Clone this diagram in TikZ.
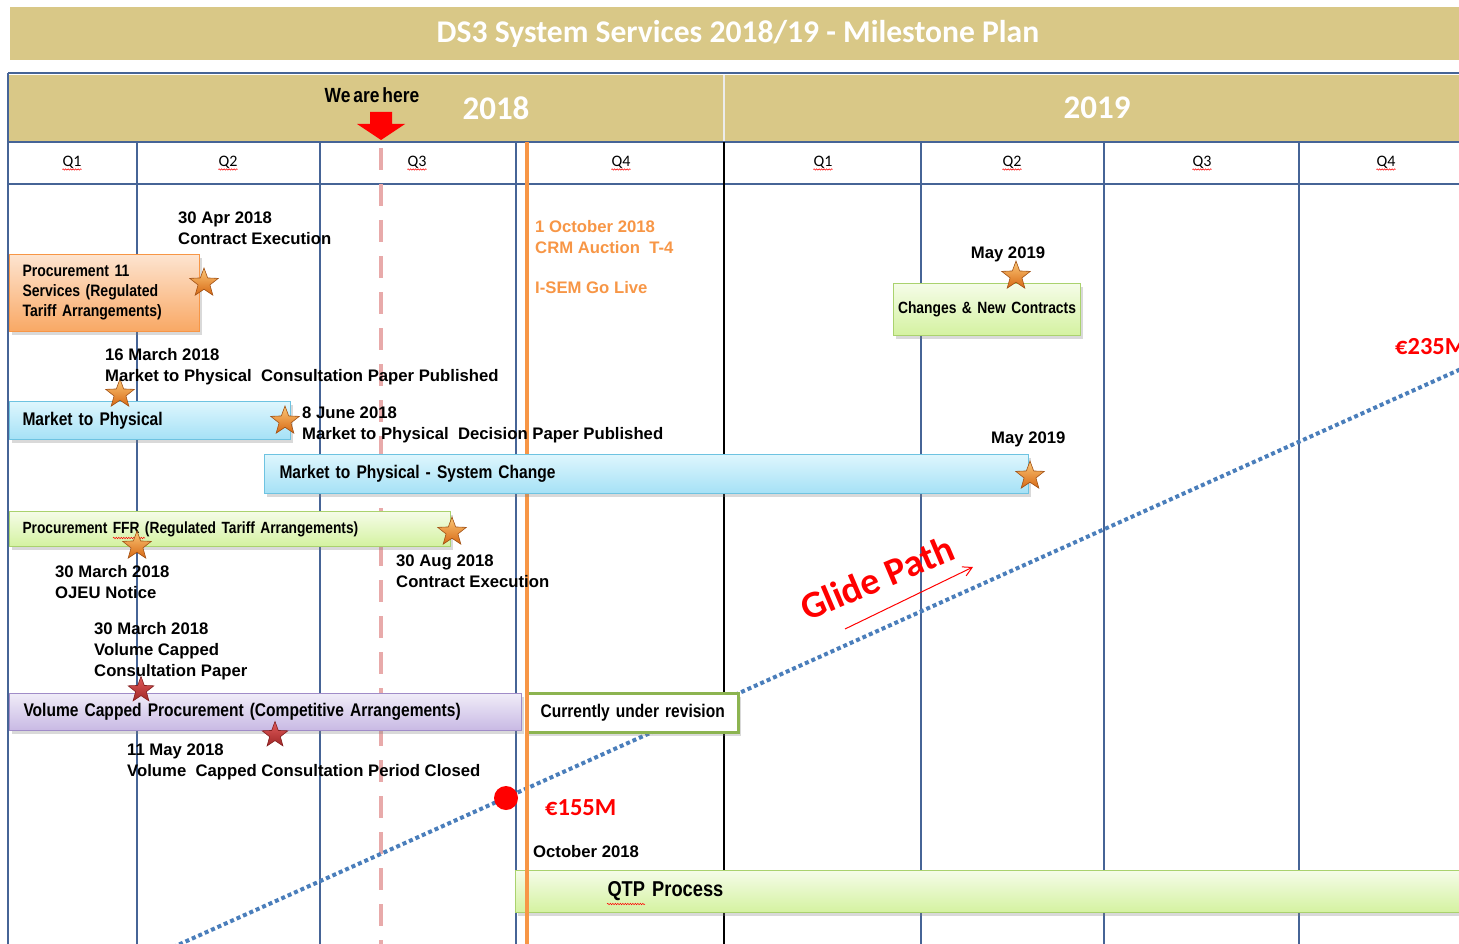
\documentclass[tikz,border=0pt]{standalone}
\usepackage{fontspec}
\setmainfont{Liberation Sans}
\newfontfamily\narrowfont[FakeStretch=0.85, WordSpace=0.6]{Liberation Sans}
\newfontfamily\calfont{Carlito}
\usetikzlibrary{shapes.geometric,shadows,arrows.meta,decorations.pathmorphing}
\definecolor{tanbar}{RGB}{217,200,135}
\definecolor{gridblue}{RGB}{70,100,150}
\definecolor{pinkdash}{RGB}{232,170,170}
\definecolor{orangeline}{RGB}{247,150,70}
\definecolor{orangetext}{RGB}{247,150,70}
\definecolor{glideblue}{RGB}{74,126,187}
\definecolor{otop}{RGB}{253,228,208}
\definecolor{obot}{RGB}{249,168,100}
\definecolor{oborder}{RGB}{247,150,70}
\definecolor{btop}{RGB}{222,246,253}
\definecolor{bbot}{RGB}{165,225,246}
\definecolor{bborder}{RGB}{110,195,225}
\definecolor{gtop}{RGB}{245,252,232}
\definecolor{gbot}{RGB}{212,242,160}
\definecolor{gborder}{RGB}{170,210,110}
\definecolor{ptop}{RGB}{240,236,248}
\definecolor{pbot}{RGB}{200,185,228}
\definecolor{pborder}{RGB}{160,140,200}
\definecolor{revborder}{RGB}{140,180,80}
\definecolor{starhi}{RGB}{252,200,120}
\definecolor{starlo}{RGB}{215,105,20}
\definecolor{stardraw}{RGB}{160,80,20}
\definecolor{rstarhi}{RGB}{225,90,90}
\definecolor{rstarlo}{RGB}{160,40,40}
\definecolor{rstardraw}{RGB}{130,30,30}

\begin{document}
\begin{tikzpicture}[x=1pt,y=-1pt,
  gridline/.style={draw=gridblue, line width=1.5pt},
  lbl/.style={font=\bfseries\fontsize{16.7}{21}\selectfont, align=left, inner sep=0pt, anchor=north west},
  olbl/.style={lbl, text=orangetext},
  qlbl/.style={font=\calfont\fontsize{16}{18}\selectfont, inner sep=1pt},
  spell/.style={draw=red, line width=0.5pt, decorate, decoration={snake, amplitude=0.7pt, segment length=2.5pt}},
  box/.style={line width=1pt, anchor=north west, inner ysep=0pt, inner xsep=13pt, align=left,
    font=\narrowfont\bfseries\fontsize{18.3}{21}\selectfont,
    drop shadow={shadow xshift=2pt, shadow yshift=-3pt, opacity=0.3}},
  obox/.style={box, draw=oborder, top color=otop, bottom color=obot},
  bbox/.style={box, draw=bborder, top color=btop, bottom color=bbot},
  gbox/.style={box, draw=gborder, top color=gtop, bottom color=gbot},
  pbox/.style={box, draw=pborder, top color=ptop, bottom color=pbot},
  ostar/.style={star, star points=5, star point ratio=2.4, minimum size=30pt, inner sep=0pt,
    draw=stardraw, line width=0.6pt, top color=starhi, bottom color=starlo},
  rstar/.style={ostar, draw=rstardraw, top color=rstarhi, bottom color=rstarlo, minimum size=27pt},
  eur/.style={font=\calfont\bfseries\fontsize{24.5}{28}\selectfont, text=red, anchor=west, inner sep=0pt}]
\useasboundingbox (0,0) rectangle (1459,944);
\clip (0,0) rectangle (1459,944);

\fill[tanbar] (10,7) rectangle (1459,60);
\node[font=\calfont\bfseries\fontsize{31.6}{36}\selectfont, text=white] (title) at (738,34) {DS3 System Services 2018/19 - Milestone Plan};

\fill[tanbar] (9,75) rectangle (1459,141);
\draw[white!85!gray, line width=1.5pt] (724,75) -- (724,141);
\draw[gridline] (8,73) -- (1459,73);
\draw[gridline] (8,142) -- (1459,142);
\draw[gridline] (8,184) -- (1459,184);
\draw[gridline] (8,73) -- (8,944);
\foreach \x in {137,320,516,921,1104,1299}
  \draw[gridline] (\x,142) -- (\x,944);
\draw[black, line width=1.5pt] (724,142) -- (724,944);

\node[font=\calfont\bfseries\fontsize{33}{38}\selectfont, text=white] (y18) at (496,108) {2018};
\node[font=\calfont\bfseries\fontsize{33}{38}\selectfont, text=white] (y19) at (1097,108) {2019};
\node[font=\narrowfont\bfseries\fontsize{20.5}{24}\selectfont] (here) at (372,95) {We are here};
\fill[red] (370,112) -- (392,112) -- (392,124) -- (405,124) -- (381,140) -- (357,124) -- (370,124) -- cycle;

\foreach \x/\q [count=\i] in {72/1,228/2,417/3,621/4,823/1,1012/2,1202/3,1386/4} {
  \node[qlbl] (q\i) at (\x,162) {Q\q};
  \draw[spell] ([xshift=1pt]q\i.south west) -- ([xshift=-1pt]q\i.south east);
}

\draw[pinkdash, line width=4pt, dash pattern=on 22pt off 14pt] (381,148) -- (381,944);

\coordinate (gp0) at (160,953);
\coordinate (gp1) at (1470,365);
\draw[glideblue, line width=4pt, dash pattern=on 4pt off 3pt] (gp0) -- (gp1);
\node[circle, fill=red, minimum size=24pt, inner sep=0pt] (dot) at (506,798) {};

\node[gbox, text width=771pt, inner xsep=92pt, minimum height=42pt, font=\narrowfont\bfseries\fontsize{21.5}{24}\selectfont] (qtp) at (515,870) {QTP Process};
\draw[spell] (607,904) -- (645,904);
\node[box, draw=revborder, fill=white, line width=3pt, text width=196pt, inner xsep=8pt, minimum height=39pt, font=\narrowfont\bfseries\fontsize{18.3}{21}\selectfont] (rev) at (525,692) {\ Currently under revision};

\draw[orangeline, line width=4pt] (527,142) -- (527,944);

\node[obox, text width=164pt, minimum height=77pt, font=\narrowfont\bfseries\fontsize{16.5}{20}\selectfont] (proc11) at (9,254) {Procurement 11\\Services (Regulated\\Tariff Arrangements)};
\node[bbox, text width=255pt, minimum height=38pt] (mtp) at (9,401) {Market to Physical};
\node[bbox, text width=734pt, inner xsep=15pt, minimum height=39pt] (mtpsys) at (264,454) {Market to Physical - System Change};
\node[gbox, text width=415pt, minimum height=35pt, font=\narrowfont\bfseries\fontsize{16.2}{20}\selectfont] (ffr) at (9,511) {Procurement FFR (Regulated Tariff Arrangements)};
\draw[spell] (113,538) -- (145,538);
\node[pbox, text width=484pt, inner xsep=14pt, minimum height=37pt] (vcp) at (9,693) {Volume Capped Procurement (Competitive Arrangements)};
\node[gbox, text width=185pt, inner xsep=1pt, align=center, minimum height=52pt, font=\narrowfont\bfseries\fontsize{16.3}{20}\selectfont] (chg) at (893,283) {Changes \& New Contracts};

\node[ostar] (sapr) at (204,283) {};
\node[ostar] (smar) at (120,394) {};
\node[ostar] (sjun) at (285,421) {};
\node[ostar] (smaya) at (1016,276) {};
\node[ostar] (smayb) at (1030,476) {};
\node[ostar] (sffra) at (137,546) {};
\node[ostar] (sffrb) at (452,532) {};
\node[rstar] (svca) at (141,690) {};
\node[rstar] (svcb) at (275,735) {};

\node[lbl] (apr30) at (178,212) {30 Apr 2018\\Contract Execution};
\node[lbl] (mar16) at (105,348) {16 March 2018\\Market to Physical\ \ Consultation Paper Published};
\node[lbl] (jun8) at (302,407) {8 June 2018\\Market to Physical\ \ Decision Paper Published};
\node[lbl, anchor=north] (maya) at (1008,247) {May 2019};
\node[lbl] (mayb) at (991,432) {May 2019};
\node[olbl] (oct1) at (535,220) {1 October 2018\\CRM Auction\ \ T-4};
\node[olbl] (isem) at (535,281) {I-SEM Go Live};
\node[lbl] (mar30a) at (55,565) {30 March 2018\\OJEU Notice};
\node[lbl] (aug30) at (396,555) {30 Aug 2018\\Contract Execution};
\node[lbl] (mar30b) at (94,622) {30 March 2018\\Volume Capped\\Consultation Paper};
\node[lbl] (may11) at (127,744) {11 May 2018\\Volume\ \ Capped Consultation Period Closed};
\node[lbl] (oct18) at (533,845) {October 2018};

\node[eur] (m155) at (545,808) {€155M};
\node[eur] (m235) at (1395,347) {€235M};

\coordinate (ga0) at (845,629);
\coordinate (ga1) at (973,567);
\draw[red, line width=1pt, -{Straight Barb[length=9pt,width=10pt]}] (ga0) -- (ga1);
\node[font=\calfont\bfseries\fontsize{38}{42}\selectfont, text=red, rotate=23] (glide) at (877,578) {Glide Path};
\end{tikzpicture}
\end{document}
